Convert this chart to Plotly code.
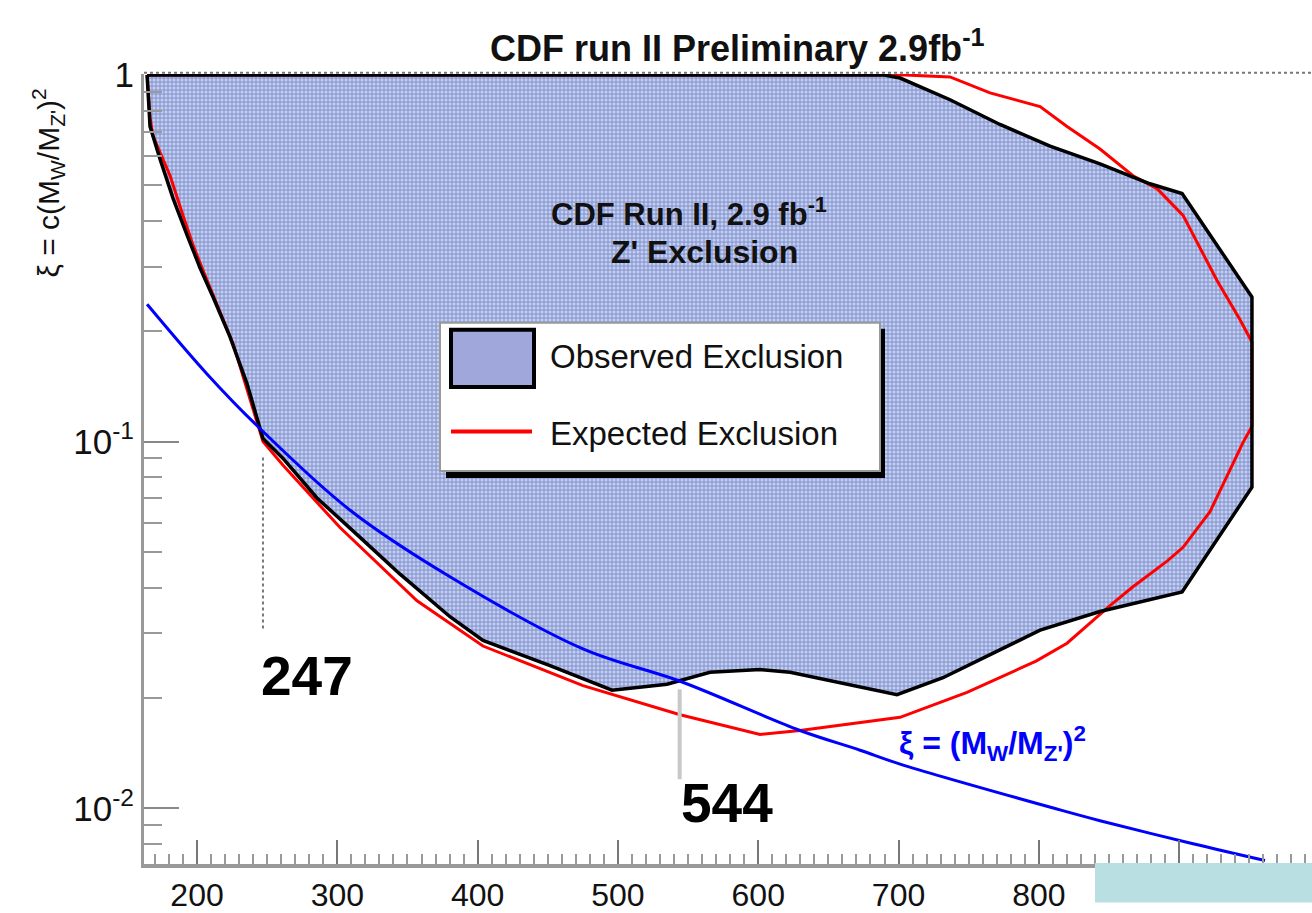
import plotly.graph_objects as go

# ---- data -------------------------------------------------------------
# Observed exclusion contour (M_Z' in GeV, xi)
obs_mass = [164.4, 690, 701.1, 736.7, 772.3, 808.0, 843.6, 879.2, 902.1, 951.9,
            951.9, 902.1, 843.6, 800.9, 763.1, 731.7, 698.9, 622.7, 601.3, 565.6,
            535.0, 495.8, 451.6, 403.8, 380.3, 344.7, 316.2, 285.5, 261.3, 247.0,
            235.6, 223.5, 211.4, 202.1, 192.9, 182.9, 173.6, 166.5, 164.4]
obs_xi = [1.0, 1.0, 0.981, 0.856, 0.733, 0.640, 0.572, 0.505, 0.475, 0.248,
          0.0751, 0.0389, 0.0344, 0.0306, 0.0260, 0.0227, 0.0204, 0.0235, 0.0239, 0.0235,
          0.0218, 0.0210, 0.0245, 0.0287, 0.0333, 0.0435, 0.0548, 0.0702, 0.090, 0.102,
          0.144, 0.193, 0.248, 0.298, 0.366, 0.461, 0.590, 0.724, 1.0]

# Expected exclusion contour
exp_mass = [164.4, 166.5, 168.6, 180.8, 190.0, 197.1, 204.3, 225.7, 247.0, 261.3,
            301.9, 356.8, 403.8, 475.1, 544.3, 601.3, 629.8, 701.1, 748.8, 798.0,
            820.1, 850.7, 867.1, 891.4, 902.8, 922.0, 945.5, 951.9, 951.9, 943.4,
            927.0, 902.8, 884.2, 867.1, 843.6, 820.1, 800.9, 765.2, 736.7, 704.6, 164.4]
exp_xi = [1.0, 0.766, 0.681, 0.531, 0.414, 0.344, 0.293, 0.185, 0.100, 0.0862,
          0.0583, 0.0368, 0.0277, 0.0216, 0.0180, 0.0159, 0.0163, 0.0177, 0.0207, 0.0252,
          0.0282, 0.0357, 0.0402, 0.0472, 0.0515, 0.0644, 0.0994, 0.11, 0.187, 0.215,
          0.275, 0.414, 0.490, 0.531, 0.628, 0.724, 0.820, 0.894, 0.988, 1.0, 1.0]

# xi = (M_W/M_Z')^2 reference curve
sm_mass = [164.4, 207.1, 242.8, 309.1, 380.3, 475.1, 544.3, 629.8, 672.6, 701.1,
           815.1, 843.6, 909.9, 961.2]
sm_xi = [0.237, 0.153, 0.1105, 0.0650, 0.0428, 0.0272, 0.0222, 0.0163, 0.0144, 0.0132,
         0.0099, 0.00925, 0.0080, 0.00720]

# Mass limits quoted on the plot
limit_low = 247
limit_high = 544

x_ticks = [200, 300, 400, 500, 600, 700, 800, 900]
x_labels = ["200", "300", "400", "500", "600", "700", "800", ""]
y_ticks = [0.01, 0.1, 1]
y_labels = ["10<sup>-2</sup>", "10<sup>-1</sup>", "1"]
y_minor = [m * d for d in (0.001, 0.01, 0.1) for m in range(2, 10)]

# ---- page geometry ------------------------------------------------------
W, H = 1312, 913
L, R, T, B = 144, 0, 74, 39
PW, PH = W - L - R, H - T - B


def px(x):
    return (x - L) / PW


def py(y):
    return (H - B - y) / PH


FONT = "Liberation Sans, Arial, sans-serif"
FILL = "#a0a8db"
pattern = dict(shape=".", bgcolor="#9a9bd1", fgcolor="#b7d6f6", size=4, solidity=0.45,
               fillmode="replace")

fig = go.Figure()

fig.add_trace(go.Scatter(x=obs_mass, y=obs_xi, mode="lines", fill="toself",
                         fillcolor=FILL, fillpattern=pattern,
                         line=dict(width=0), hoverinfo="skip", showlegend=False))
fig.add_trace(go.Scatter(x=exp_mass, y=exp_xi, mode="lines",
                         line=dict(color="#ff0000", width=3), showlegend=False))
fig.add_trace(go.Scatter(x=obs_mass, y=obs_xi, mode="lines",
                         line=dict(color="#000000", width=3.5), showlegend=False))
fig.add_trace(go.Scatter(x=sm_mass, y=sm_xi, mode="lines", line_shape="spline",
                         line=dict(color="#0000ff", width=3), showlegend=False))

# limit markers
fig.add_trace(go.Scatter(x=[limit_low, limit_low], y=[0.0905, 0.0306], mode="lines",
                         line=dict(color="#777777", width=2, dash="dot"), showlegend=False))
fig.add_trace(go.Scatter(x=[limit_high, limit_high], y=[0.0211, 0.0120], mode="lines",
                         line=dict(color="#c8c8c8", width=4), showlegend=False))

shapes = [
    # dotted top frame
    dict(type="line", xref="paper", yref="paper", x0=0, x1=1, y0=1.0015, y1=1.0015,
         line=dict(color="#777777", width=2, dash="dot"), layer="below"),
    # legend shadow and box
    dict(type="rect", xref="paper", yref="paper", x0=px(446), x1=px(885), y0=py(483), y1=py(332),
         fillcolor="#000000", line=dict(width=0)),
    dict(type="rect", xref="paper", yref="paper", x0=px(440), x1=px(880), y0=py(476), y1=py(326),
         fillcolor="#ffffff", line=dict(color="#999999", width=2)),
    dict(type="rect", xref="paper", yref="paper", x0=px(451), x1=px(534), y0=py(391), y1=py(333),
         fillcolor=FILL, line=dict(color="#000000", width=4)),
    dict(type="line", xref="paper", yref="paper", x0=px(451), x1=px(532), y0=py(436), y1=py(436),
         line=dict(color="#ff0000", width=4)),
    # corner box over the last axis label
    dict(type="rect", xref="paper", yref="paper", x0=px(1095), x1=1.0, y0=py(913), y1=py(873),
         fillcolor="#badfe2", line=dict(width=0), layer="above"),
]

annotations = [
    dict(text="<b>CDF run II Preliminary 2.9fb<sup>-1</sup></b>", x=px(737), y=py(46),
         font=dict(size=36, color="#111111")),
    dict(text="<b>CDF Run II, 2.9 fb<sup>-1</sup></b>", x=px(689), y=py(214),
         font=dict(size=31, color="#111111")),
    dict(text="<b>Z' Exclusion</b>", x=px(704), y=py(254), font=dict(size=32, color="#111111")),
    dict(text="Observed Exclusion", x=px(548), y=py(360), xanchor="left",
         font=dict(size=33, color="#111111")),
    dict(text="Expected Exclusion", x=px(548), y=py(438), xanchor="left",
         font=dict(size=33, color="#111111")),
    dict(text="<b>247</b>", x=px(307), y=py(684), font=dict(size=55, color="#000000")),
    dict(text="<b>544</b>", x=px(727), y=py(812), font=dict(size=55, color="#000000")),
    dict(text="<b>\u03be = (M<sub>W</sub>/M<sub>Z'</sub>)<sup>2</sup></b>", x=px(897), y=py(752),
         xanchor="left", font=dict(size=32, color="#0000ff")),
    dict(text="\u03be = c(M<sub>W</sub>/M<sub>Z'</sub>)<sup>2</sup>", x=px(48), y=py(185),
         textangle=-90, font=dict(size=30, color="#111111")),
]
for a in annotations:
    a.setdefault("xref", "paper")
    a.setdefault("yref", "paper")
    a.setdefault("xanchor", "center")
    a.setdefault("yanchor", "middle")
    a.setdefault("showarrow", False)

fig.update_layout(
    width=W, height=H,
    margin=dict(l=L, r=R, t=T, b=B, pad=0),
    paper_bgcolor="#ffffff", plot_bgcolor="#ffffff",
    font=dict(family=FONT, color="#111111"),
    showlegend=False,
    shapes=shapes,
    annotations=annotations,
    xaxis=dict(range=[162.2, 994.7], tickvals=x_ticks, ticktext=x_labels,
               ticks="inside", ticklen=24, tickwidth=2, tickcolor="#777777",
               minor=dict(dtick=10, tick0=0, ticks="inside", ticklen=10, tickwidth=2,
                          tickcolor="#999999"),
               showline=True, linecolor="#999999", linewidth=4, mirror=False,
               showgrid=False, zeroline=False,
               tickfont=dict(size=32, color="#111111", family=FONT)),
    yaxis=dict(type="log", range=[-2.152, 0.0027], tickvals=y_ticks, ticktext=y_labels,
               ticks="inside", ticklen=35, tickwidth=2, tickcolor="#888888",
               minor=dict(tickvals=y_minor, ticks="inside", ticklen=18, tickwidth=2,
                          tickcolor="#999999"),
               showline=True, linecolor="#999999", linewidth=3, mirror=False,
               showgrid=False, zeroline=False,
               tickfont=dict(size=35, color="#111111", family=FONT)),
)

fig.write_html("out.html")
